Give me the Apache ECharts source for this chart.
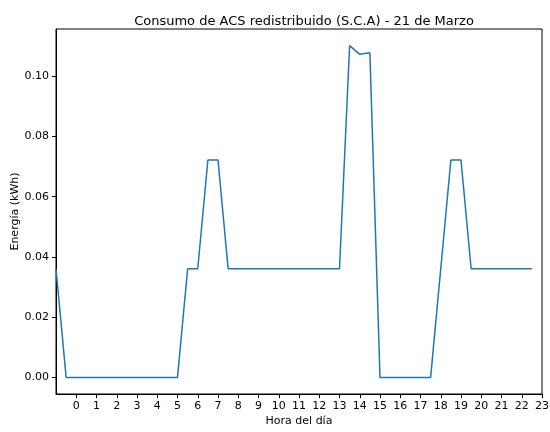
<!DOCTYPE html>
<html>
<head>
<meta charset="utf-8">
<script src="https://cdn.jsdelivr.net/npm/echarts@6/dist/echarts.min.js"></script>
<style>html,body{margin:0;padding:0;background:#fff;}#c{width:550px;height:432px;}</style>
</head>
<body>
<div id="c"></div>
<script>
// Half-hour samples, x position in hours (plot starts at -1)
const hours = [-1,-0.5,0,0.5,1,1.5,2,2.5,3,3.5,4,4.5,5,5.5,6,6.5,7,7.5,8,8.5,9,9.5,10,10.5,11,11.5,12,12.5,13,13.5,14,14.5,15,15.5,16,16.5,17,17.5,18,18.5,19,19.5,20,20.5,21,21.5,22,22.5];
const energy = [0.0361,0,0,0,0,0,0,0,0,0,0,0,0,0.0361,0.0361,0.0722,0.0722,0.0361,0.0361,0.0361,0.0361,0.0361,0.0361,0.0361,0.0361,0.0361,0.0361,0.0361,0.0361,0.1102,0.1073,0.1078,0,0,0,0,0,0,0.0361,0.0722,0.0722,0.0361,0.0361,0.0361,0.0361,0.0361,0.0361,0.0361];
const xTicks = [0,1,2,3,4,5,6,7,8,9,10,11,12,13,14,15,16,17,18,19,20,21,22,23];
const yTicks = [0,0.02,0.04,0.06,0.08,0.10];

const FONT = 'DejaVu Sans';
const chart = echarts.init(document.getElementById('c'), null, {renderer:'canvas'});
chart.setOption({
  animation:false,
  backgroundColor:'#fff',
  title:{text:'Consumo de ACS redistribuido (S.C.A) - 21 de Marzo', left:299, top:10, textAlign:'center',
    textStyle:{fontFamily:FONT, fontSize:13, fontWeight:'normal', color:'#000'}},
  grid:{left:56, right:8, top:29, bottom:38, containLabel:false, outerBoundsMode:'none',
    show:true, borderColor:'#000', borderWidth:1, backgroundColor:'transparent'},
  xAxis:{type:'value', min:-1, max:23,
    name:'Hora del día', nameLocation:'middle', nameGap:22, nameMoveOverlap:false,
    nameTextStyle:{fontFamily:FONT, fontSize:11, color:'#000'},
    axisLine:{show:true, onZero:false, lineStyle:{color:'#000', width:1}},
    axisTick:{show:true, length:4, lineStyle:{color:'#000'}, customValues:xTicks},
    axisLabel:{fontFamily:FONT, fontSize:11, color:'#000', margin:7, customValues:xTicks, hideOverlap:false},
    splitLine:{show:false}},
  yAxis:{type:'value', min:-0.00551, max:0.11571,
    name:'Energía (kWh)', nameLocation:'middle', nameGap:35, nameRotate:90, nameMoveOverlap:false,
    nameTextStyle:{fontFamily:FONT, fontSize:11, color:'#000'},
    axisLine:{show:true, onZero:false, lineStyle:{color:'#000', width:1}},
    axisTick:{show:true, length:4, lineStyle:{color:'#000'}, customValues:yTicks},
    axisLabel:{fontFamily:FONT, fontSize:11, color:'#000', margin:7, customValues:yTicks,
      formatter:v=>v.toFixed(2)},
    splitLine:{show:false}},
  series:[{type:'line', data:hours.map((h,i)=>[h,energy[i]]), showSymbol:false, symbol:'none',
    lineStyle:{color:'#1f77b4', width:1.5}, itemStyle:{color:'#1f77b4'}, clip:true}]
});
</script>
</body>
</html>
